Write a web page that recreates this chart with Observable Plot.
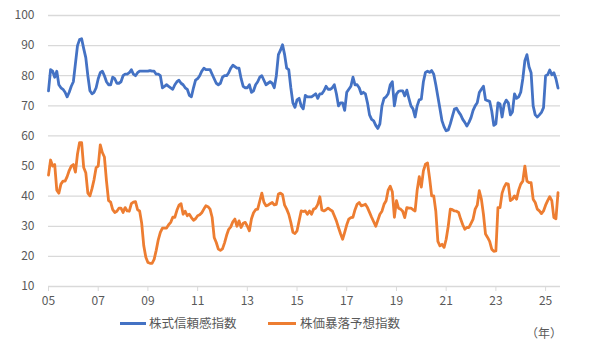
<!DOCTYPE html>
<html>
<head>
<meta charset="utf-8">
<script src="https://cdn.jsdelivr.net/npm/d3@7"></script>
<script src="https://cdn.jsdelivr.net/npm/@observablehq/plot@0.6"></script>
<style>
  body { margin: 0; background: #fff; }
  #wrap { position: relative; width: 594px; height: 351px; font-family: "Noto Sans CJK JP", "Noto Sans", sans-serif; color: #595959; }
  #legend { position: absolute; left: 0; top: 314px; width: 594px; height: 18px; }
  .item { position: absolute; top: 0; font-size: 12.5px; line-height: 18px; white-space: nowrap; }
  .sw { position: absolute; top: 8px; height: 3px; }
  #unit { position: absolute; left: 526px; top: 325px; font-size: 12px; line-height: 16px; }
</style>
</head>
<body>
<div id="wrap">
  <div id="chart"></div>
  <div id="legend"></div>
  <div id="unit">（年）</div>
</div>
<script>
// Series names and colours
const seriesNames = ["株式信頼感指数", "株価暴落予想指数"];
const seriesColors = ["#4472C4", "#ED7D31"];

// Monthly values, starting January 2005
const startYear = 2005;
const confidence = [
  75, 82, 81.5, 79.5, 81.5, 77, 76, 75.5, 74.5, 73, 74.5, 76.5,
  78, 84, 90, 92, 92.3, 89, 86, 80, 75, 74, 74.5, 76,
  79, 81, 81.5, 80, 78, 77, 77, 79.5, 79, 77.5, 77.5, 78,
  80, 80.5, 80.5, 81, 82, 80.5, 80, 81, 81.5, 81.5, 81.5, 81.5,
  81.5, 81.7, 81.5, 81.5, 80.5, 80.5, 80, 76, 76.5, 77, 76.5, 76,
  75.5, 77, 78, 78.5, 77.5, 77, 76, 75.5, 73.5, 73, 76, 78.5,
  79, 80, 81.5, 82.5, 82, 82, 82, 80.5, 79, 77.5, 77, 77.5,
  79.5, 80, 80, 81, 82.5, 83.5, 83, 82.5, 82.5, 79, 76.5, 76,
  76, 77, 74.5, 75, 77, 78, 79.5, 80, 78.5, 77, 77.5, 78,
  77.5, 76, 80, 87, 88.5, 90.3, 87, 82.5, 82, 76, 71, 69.5,
  72, 72.5, 70, 69, 73.5, 73, 73, 73, 73.5, 74, 72.5, 74,
  74, 75, 76.5, 75.5, 75.5, 76, 77, 74, 70, 71, 71, 68.5,
  74.5, 75.5, 76.5, 79.5, 77, 77, 76, 74, 74.5, 74, 71, 67,
  65.5, 65, 63.5, 62.5, 64, 70, 72.5, 73, 74, 77, 78, 70,
  73.9, 74.8, 75, 75, 73.3, 75.2, 72.5, 70, 69, 66.3, 70, 72,
  72.2, 78, 81.1, 81.5, 81.1, 81.7, 80.5, 77, 73, 69, 65, 63,
  61.7, 62, 64, 66.5, 68.9, 69.2, 68, 67, 65.5, 64.5, 63.3, 64.5,
  66.1, 68.5, 70, 71, 74.4, 75.5, 76.5, 72, 71.7, 71.5, 68.3, 63.5,
  64, 71, 70.6, 66.3, 70.5, 71.9, 71, 67, 68, 74, 72.5, 73,
  74.5, 79, 85, 87, 83, 81, 70, 67, 66.3, 67, 67.8, 69.4,
  80, 80.3, 81.9, 80.3, 81, 79, 75.9
];
const crash = [
  47, 52, 50, 50.5, 42, 41, 44, 45, 45, 46.5, 48.5, 50,
  50.5, 48, 54, 57.8, 57.8, 49.5, 47.8, 41, 40.1, 42.5, 45.5, 49.5,
  50, 57, 54.5, 53, 45, 38.5, 38, 35.5, 34.6, 35, 36, 36,
  34.6, 36.2, 35.1, 35, 37.5, 38, 38.2, 35.5, 35.1, 31, 23.5, 19.7,
  18, 17.7, 17.7, 19, 22, 25.5, 28, 29.4, 29.4, 29.4, 30.5, 31.3,
  33, 33, 35.3, 37, 37.5, 34, 35, 33.5, 34, 32.9, 32, 32.5,
  33.5, 33.8, 34.5, 35.7, 36.8, 36.5, 35.7, 33, 26.3, 24.6, 22.4, 22,
  22.5, 24.5, 27, 29, 29.8, 31.5, 32.4, 30, 31.8, 29.6, 31, 31.3,
  30, 28.5, 32.5, 34.5, 35.5, 35.7, 38.4, 41, 38, 36.8, 37, 37.5,
  37.9, 37.1, 37.3, 40.7, 41, 40.5, 37, 35.7, 34, 31.3, 28, 27.6,
  28.5, 31.8, 35.1, 34.9, 35.1, 34, 35.1, 34, 35.7, 36, 37.3, 39.8,
  35.4, 35.1, 35.5, 36, 35.5, 35.1, 33.5, 31.8, 29.6, 27.5, 25.7, 28,
  30.5, 32.4, 32.9, 33, 35.5, 37.3, 37.9, 36.8, 37, 37.3, 36.2, 34.6,
  33, 31.5, 30, 32, 34, 35, 37.3, 38.5, 42, 43.3, 41.5, 33,
  38.5, 36, 35.7, 35, 32.9, 36.2, 36, 36, 35.5, 35.1, 42, 46.5,
  43, 48.4, 50.6, 51, 46, 40.1, 40.1, 35, 25, 23.5, 24, 23,
  25.7, 30, 35.7, 35.5, 35.1, 35, 34.6, 32.4, 30.5, 29, 29.6, 29.6,
  31, 32.4, 35.7, 37, 41.8, 39, 34, 27.4, 26.3, 25, 22.4, 21.7,
  21.8, 36.2, 36.2, 41, 43, 44.2, 44, 38.5, 39, 40.1, 39, 42,
  44, 45, 50, 45, 44.5, 44.5, 39, 37.9, 35.7, 35.1, 34.2, 35.1,
  37, 38.5, 39.8, 38.5, 32.9, 32.5, 41.2
];

// Axis ticks
const xTicks = [2005, 2007, 2009, 2011, 2013, 2015, 2017, 2019, 2021, 2023, 2025];
const yTicks = [10, 20, 30, 40, 50, 60, 70, 80, 90, 100];

const rows = [];
[confidence, crash].forEach((vals, si) => {
  vals.forEach((v, i) => rows.push({ t: startYear + i / 12, v, s: seriesNames[si] }));
});

const chart = Plot.plot({
  width: 594,
  height: 312,
  marginTop: 15,
  marginLeft: 48,
  marginRight: 34,
  marginBottom: 26,
  style: { fontFamily: '"Noto Sans CJK JP", "Noto Sans", sans-serif', fontSize: "12px", color: "#595959", background: "#fff" },
  x: { domain: [2005, 2025.6] },
  y: { domain: [10, 100] },
  color: { domain: seriesNames, range: seriesColors },
  marks: [
    Plot.ruleY(yTicks.filter(d => d > 10), { stroke: "#d9d9d9", strokeWidth: 1.3 }),
    Plot.ruleY([10], { stroke: "#d9d9d9", strokeWidth: 1.3 }),
    Plot.axisY({ ticks: yTicks, tickSize: 0, tickPadding: 14, fill: "#595959", fontSize: 12, label: null }),
    Plot.axisX({ ticks: xTicks, tickSize: 5, tickPadding: 5, stroke: "#d9d9d9", fill: "#595959", fontSize: 12, label: null,
      tickFormat: d => String(d % 100).padStart(2, "0") }),
    Plot.line(rows, { x: "t", y: "v", z: "s", stroke: "s", strokeWidth: 2.8, strokeLinejoin: "round", curve: "linear" })
  ]
});
document.getElementById("chart").appendChild(chart);

// Legend below the chart
const legend = document.getElementById("legend");
const legendPos = [{ sw: 120, w: 26, tx: 149 }, { sw: 268, w: 28, tx: 300 }];
seriesNames.forEach((name, i) => {
  const p = legendPos[i];
  const sw = document.createElement("div");
  sw.className = "sw";
  sw.style.left = p.sw + "px";
  sw.style.width = p.w + "px";
  sw.style.background = seriesColors[i];
  legend.appendChild(sw);
  const t = document.createElement("div");
  t.className = "item";
  t.style.left = p.tx + "px";
  t.textContent = name;
  legend.appendChild(t);
});
</script>
</body>
</html>
